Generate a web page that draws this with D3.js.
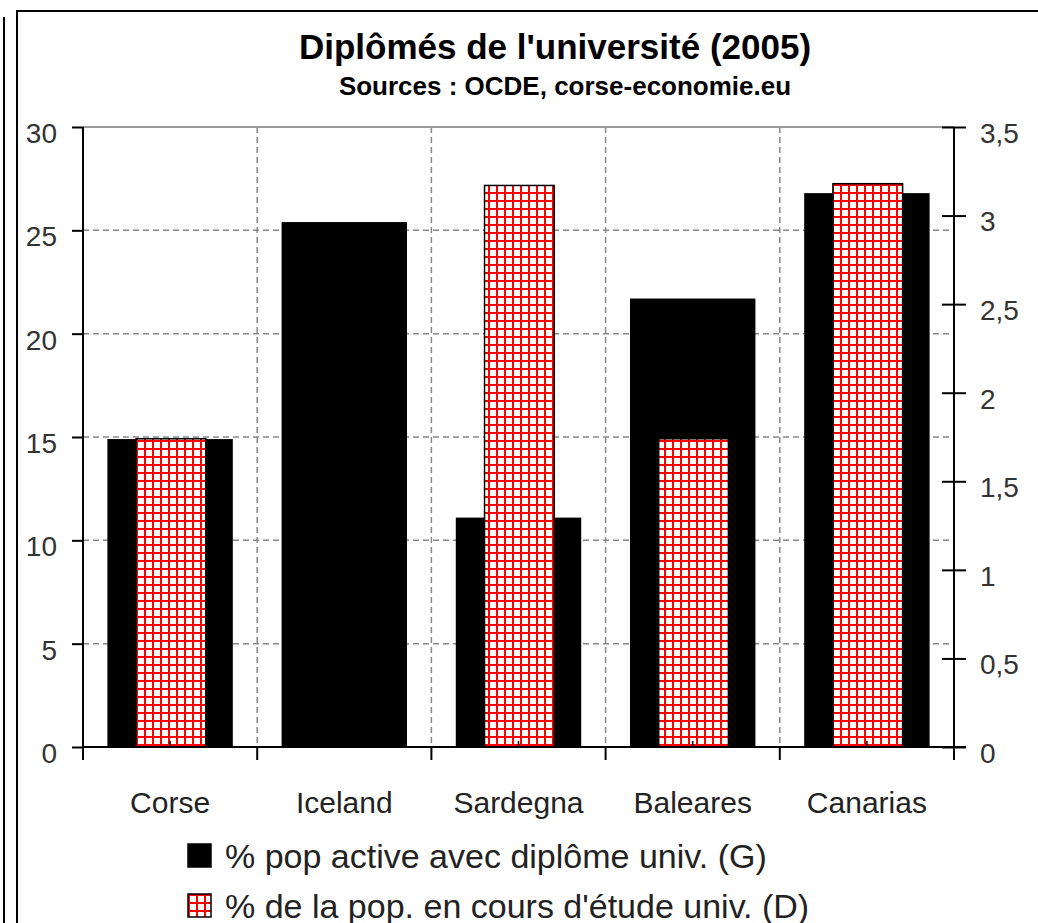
<!DOCTYPE html>
<html>
<head>
<meta charset="utf-8">
<script src="https://cdn.jsdelivr.net/npm/d3@7"></script>
<style>
  body { margin: 0; background: #fff; }
  svg { display: block; font-family: "Liberation Sans", Arial, sans-serif; }
</style>
</head>
<body>
<script>
var width = 1038,
    height = 923;

// data
var categories = ["Corse", "Iceland", "Sardegna", "Baleares", "Canarias"];
var diplomeG = [14.9, 25.4, 11.1, 21.7, 26.8];      // left axis
var etudeD = [1.74, null, 3.17, 1.74, 3.18];        // right axis
var leftTicks = [0, 5, 10, 15, 20, 25, 30];
var rightTicks = [0, 0.5, 1, 1.5, 2, 2.5, 3, 3.5];
var legendLabels = ["% pop active avec diplôme univ. (G)", "% de la pop. en cours d'étude univ. (D)"];

var plot = {left: 83, right: 954, top: 127, bottom: 747};

var svg = d3.select("body").append("svg")
    .attr("width", width)
    .attr("height", height);

svg.append("rect").attr("width", width).attr("height", height).attr("fill", "#fff");

// hatch pattern for the D series
var defs = svg.append("defs");
var pat = defs.append("pattern")
    .attr("id", "grid")
    .attr("patternUnits", "userSpaceOnUse")
    .attr("width", 8).attr("height", 8);
pat.append("rect").attr("width", 8).attr("height", 8).attr("fill", "#fff");
pat.append("rect").attr("x", 0).attr("y", 0).attr("width", 2).attr("height", 8).attr("fill", "#f00");
pat.append("rect").attr("x", 0).attr("y", 0).attr("width", 8).attr("height", 2).attr("fill", "#f00");

// frames
svg.append("line").attr("x1", 4).attr("x2", 4).attr("y1", 17).attr("y2", height)
    .attr("stroke", "#000").attr("stroke-width", 2);
svg.append("path").attr("d", "M17," + height + "V11H" + (width + 5))
    .attr("fill", "none").attr("stroke", "#000").attr("stroke-width", 2);

// title
svg.append("text")
    .attr("x", 555).attr("y", 59)
    .attr("text-anchor", "middle")
    .attr("font-size", 35).attr("font-weight", "bold")
    .attr("fill", "#000")
    .text("Diplômés de l'université (2005)");
svg.append("text")
    .attr("x", 565).attr("y", 95)
    .attr("text-anchor", "middle")
    .attr("font-size", 26).attr("font-weight", "bold")
    .attr("fill", "#000")
    .text("Sources : OCDE, corse-economie.eu");

var x = d3.scaleBand()
    .domain(categories)
    .range([plot.left, plot.right])
    .padding(0);

var yL = d3.scaleLinear().domain([0, 30]).range([plot.bottom, plot.top]);
var yR = d3.scaleLinear().domain([0, 3.5]).range([plot.bottom, plot.top]);

// grid
var g = svg.append("g");
g.selectAll(".hgrid")
  .data(leftTicks.filter(function(d) { return d > 0 && d < 30; }))
  .enter().append("line")
    .attr("x1", plot.left).attr("x2", plot.right)
    .attr("y1", function(d) { return yL(d); })
    .attr("y2", function(d) { return yL(d); })
    .attr("stroke", "#888").attr("stroke-width", 1.5)
    .attr("stroke-dasharray", "6,4");
g.selectAll(".vgrid")
  .data(categories.slice(1))
  .enter().append("line")
    .attr("x1", function(d) { return x(d); })
    .attr("x2", function(d) { return x(d); })
    .attr("y1", plot.top).attr("y2", plot.bottom)
    .attr("stroke", "#888").attr("stroke-width", 1.5)
    .attr("stroke-dasharray", "6,4");
g.append("line")
    .attr("x1", plot.left).attr("x2", plot.right)
    .attr("y1", yL(30)).attr("y2", yL(30))
    .attr("stroke", "#999").attr("stroke-width", 2);

// bars G
var bw = x.bandwidth();
svg.selectAll(".barG")
  .data(diplomeG)
  .enter().append("rect")
    .attr("x", function(d, i) { return x(categories[i]) + bw * 0.14; })
    .attr("width", bw * 0.72)
    .attr("y", function(d) { return yL(d); })
    .attr("height", function(d) { return yL(0) - yL(d); })
    .attr("fill", "#000");

// bars D
svg.selectAll(".barD")
  .data(etudeD.map(function(v, i) { return {v: v, c: categories[i]}; })
          .filter(function(d) { return d.v != null; }))
  .enter().append("rect")
    .attr("x", function(d) { return x(d.c) + bw * 0.305; })
    .attr("width", bw * 0.4)
    .attr("y", function(d) { return yR(d.v); })
    .attr("height", function(d) { return yR(0) - yR(d.v); })
    .attr("fill", "url(#grid)")
    .attr("stroke", "#000").attr("stroke-width", 1.5);

// left axis
var axL = svg.append("g")
    .attr("transform", "translate(" + plot.left + ",0)")
    .call(d3.axisLeft(yL).tickValues(leftTicks).tickSize(11).tickPadding(15));
axL.select(".domain").remove();
axL.append("line").attr("y1", plot.top).attr("y2", plot.bottom + 13)
    .attr("stroke", "#000").attr("stroke-width", 2);

// right axis
var axR = svg.append("g")
    .attr("transform", "translate(" + plot.right + ",0)")
    .call(d3.axisRight(yR).tickValues(rightTicks).tickSize(12).tickPadding(14)
        .tickFormat(function(d) { return String(d).replace(".", ","); }));
axR.select(".domain").remove();
axR.selectAll(".tick line").attr("x1", -12);
axR.append("line").attr("y1", plot.top).attr("y2", plot.bottom + 13)
    .attr("stroke", "#000").attr("stroke-width", 2);

[axL, axR].forEach(function(a) {
  a.selectAll(".tick line").attr("stroke", "#000").attr("stroke-width", 2);
  a.selectAll(".tick text")
    .attr("font-size", 28)
    .attr("font-family", "Liberation Sans, Arial, sans-serif")
    .attr("fill", "#333")
    .attr("dy", "0.55em");
});

// baseline + category ticks
svg.append("line")
    .attr("x1", plot.left).attr("x2", plot.right + 12)
    .attr("y1", plot.bottom).attr("y2", plot.bottom)
    .attr("stroke", "#000").attr("stroke-width", 2);
svg.selectAll(".ctick")
  .data(categories.slice(1))
  .enter().append("line")
    .attr("x1", function(d) { return x(d); })
    .attr("x2", function(d) { return x(d); })
    .attr("y1", plot.bottom).attr("y2", plot.bottom + 13)
    .attr("stroke", "#000").attr("stroke-width", 2);
svg.selectAll(".mtick")
  .data(categories)
  .enter().append("line")
    .attr("x1", function(d) { return x(d) + bw / 2; })
    .attr("x2", function(d) { return x(d) + bw / 2; })
    .attr("y1", plot.bottom).attr("y2", plot.bottom - 6)
    .attr("stroke", "#000").attr("stroke-width", 1.5);

svg.selectAll(".clabel")
  .data(categories)
  .enter().append("text")
    .attr("x", function(d) { return x(d) + bw / 2; })
    .attr("y", 813)
    .attr("text-anchor", "middle")
    .attr("font-size", 30)
    .attr("fill", "#222")
    .text(function(d) { return d; });

// legend
var leg = svg.selectAll(".leg")
  .data(legendLabels)
  .enter().append("g")
    .attr("transform", function(d, i) { return "translate(188," + (844 + i * 50) + ")"; });
leg.append("rect")
    .attr("width", 23).attr("height", 23)
    .attr("fill", function(d, i) { return i === 0 ? "#000" : "url(#grid)"; })
    .attr("stroke", "#000").attr("stroke-width", 1.5);
leg.append("text")
    .attr("x", 37).attr("y", 24)
    .attr("font-size", 34)
    .attr("fill", "#222")
    .text(function(d) { return d; });
</script>
</body>
</html>
